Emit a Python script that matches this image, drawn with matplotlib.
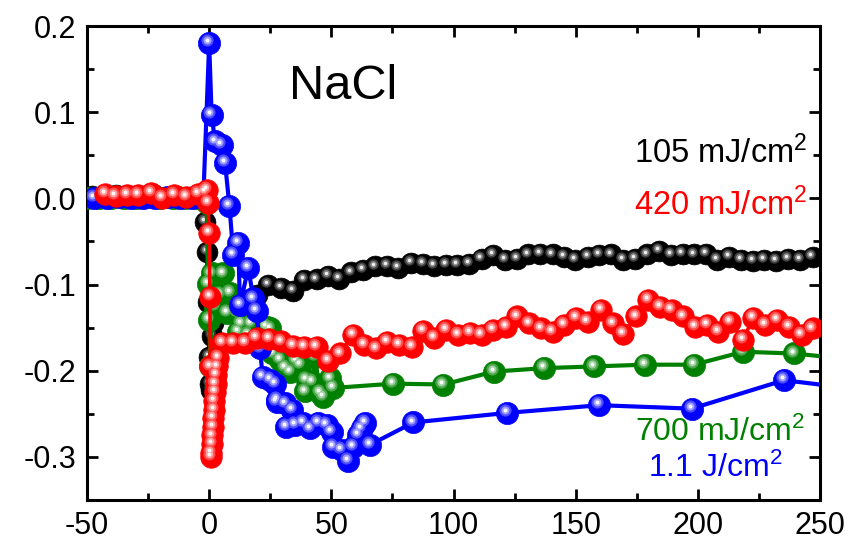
import numpy as np
import matplotlib
matplotlib.use("Agg")
import matplotlib.pyplot as plt
from matplotlib.transforms import offset_copy
from matplotlib.colors import to_rgb

plt.rcParams['font.family'] = ['Liberation Sans', 'DejaVu Sans']
plt.rcParams['mathtext.default'] = 'regular'
plt.rcParams['axes.unicode_minus'] = False

# delay (ps) and signal for each fluence
x_105 = [-48, -43, -38, -33, -28, -23, -18, -13, -8, -4,
         -1.7, -1.0, -0.5, 0, 0.4, 0.8, 1.2, 1.6, 5.8, 10, 14.6,
         19.4, 24.2, 29.3, 34.2, 38.9, 44, 48.8, 53.3, 58, 63.1, 67.9, 72.7, 77.4,
         82.5, 87.4, 92.1, 96.9, 101.6, 106.5, 111.5, 116.3, 121.1, 125.9, 130.6,
         135.4, 140.6, 145.2, 149.9, 155, 159.7, 164.5, 169.3, 174.3, 179.1, 184.2,
         188.9, 193.8, 198.4, 203.4, 208, 212.9, 217.6, 222.5, 227.1, 232, 237,
         241.8, 247]
y_105 = [0.003, 0.002, 0.004, 0.003, 0.002, 0.005, 0.002, 0.003, 0.002, 0.003,
         -0.027, -0.062, -0.12, -0.184, -0.215, -0.222, -0.16, -0.145, -0.13, -0.125, -0.118,
         -0.112, -0.100, -0.104, -0.107, -0.095, -0.094, -0.090, -0.093, -0.086, -0.083, -0.079, -0.078, -0.081,
         -0.075, -0.076, -0.078, -0.077, -0.077, -0.076, -0.070, -0.066, -0.071, -0.070, -0.065,
         -0.064, -0.065, -0.068, -0.071, -0.068, -0.066, -0.065, -0.071, -0.070, -0.065, -0.061,
         -0.066, -0.064, -0.065, -0.064, -0.071, -0.068, -0.071, -0.073, -0.071, -0.073, -0.070,
         -0.071, -0.068]

x_420 = [-42.7, -38.3, -33.5, -29, -23.9, -19.2, -14.3, -9.6, -4.5,
         -1.5, -1.0, -0.5, 0, 0.3, 0.5, 0.7, 0.9, 1.1, 1.3, 1.5, 1.7, 1.9, 2.1, 2.3,
         2.6, 2.9, 3.2, 3.6, 5.2, 9.9, 14.7,
         19.4, 24.5, 29.3, 34.2, 39, 44, 48.8, 53.6, 58.8, 63.5, 68.2, 72.8, 77.7,
         82.9, 87.6, 92.1, 96.9, 102, 106.8, 111.5, 116.3, 121.4, 126.1, 131,
         135.8, 140.6, 145.2, 150.1, 154.9, 160.4, 165.2, 169.5, 174.7, 179.7, 184.5,
         189.3, 194.1, 198.9, 203.9, 208.4, 213.2, 218.4, 222.7, 227.5, 232.3, 237.5,
         242.5, 247]
y_420 = [0.005, 0.003, 0.004, 0.004, 0.006, 0.001, 0.004, 0.002, 0.005,
         0.008, 0.01, -0.005, -0.04, -0.114, -0.195, -0.30, -0.295, -0.285, -0.275, -0.265, -0.255, -0.245, -0.235, -0.225,
         -0.215, -0.205, -0.195, -0.185, -0.168, -0.168, -0.168,
         -0.162, -0.163, -0.166, -0.171, -0.172, -0.172, -0.189, -0.180, -0.158, -0.170, -0.174, -0.167, -0.170,
         -0.172, -0.154, -0.162, -0.153, -0.158, -0.156, -0.158, -0.153, -0.149, -0.137, -0.145,
         -0.151, -0.155, -0.147, -0.139, -0.143, -0.129, -0.145, -0.157, -0.137, -0.118, -0.126,
         -0.129, -0.137, -0.149, -0.147, -0.155, -0.143, -0.164, -0.139, -0.147, -0.141, -0.149,
         -0.158, -0.151]

x_700 = [-50, -45, -40, -35, -30, -25, -20, -15, -10, -5,
         -1, -0.5, 0, 0.5, 1, 2.4, 4.4, 5.8, 7.2, 8.5, 11.3, 11.9, 13.3, 16, 17.4,
         23.5, 24.9, 25.6, 26.2, 29, 31, 33.1, 35.8, 37.2, 39.2, 39.9, 42, 43.3,
         45.4, 46.7, 49.4, 50.8, 75.4, 95.9, 116.6, 137.1, 157.5, 178.4, 198.4,
         218.6, 239.4, 260]
y_700 = [0.0, 0.001, 0.0, 0.001, 0.0, 0.002, 0.0, 0.001, 0.0, 0.001,
         -0.005, -0.099, -0.141, -0.195, -0.087, -0.126, -0.112, -0.087, -0.133, -0.110, -0.133, -0.155, -0.145, -0.158, -0.145,
         -0.149, -0.151, -0.180, -0.180, -0.187, -0.197, -0.201, -0.189, -0.193, -0.224, -0.211, -0.213, -0.184,
         -0.226, -0.230, -0.209, -0.220, -0.215, -0.216, -0.201, -0.197, -0.195, -0.193, -0.193,
         -0.178, -0.180, -0.186]

x_1100 = [-47, -42, -37, -32, -27, -22, -17, -12, -7, -2.4,
          0, 1, 2.4, 5.1, 6.5, 8.3, 9.9, 11.9, 12.6, 16, 18.1, 19.4, 20.8, 21.9,
          24.9, 26.9, 27.6, 27.9, 31, 31.5, 33.8, 35.1, 38.5, 41.3, 44.7, 48.1,
          50.1, 50.8, 54.2, 56.9, 59, 61.1, 62.4, 63.8, 65.8, 83.6, 121.8, 159.7,
          197.5, 235.3, 273]
y_1100 = [0.001, 0.0, 0.002, 0.0, 0.001, 0.0, 0.002, 0.0, 0.001, 0.0,
          0.180, 0.097, 0.066, 0.062, 0.041, -0.009, -0.066, -0.052, -0.124, -0.081, -0.116, -0.131, -0.174, -0.207,
          -0.211, -0.215, -0.236, -0.234, -0.238, -0.265, -0.245, -0.263, -0.261, -0.267, -0.261, -0.263,
          -0.271, -0.288, -0.292, -0.305, -0.288, -0.274, -0.267, -0.261, -0.286, -0.260, -0.249, -0.240,
          -0.244, -0.211, -0.224]

labels = [r'105 mJ/cm$^2$', r'420 mJ/cm$^2$', r'700 mJ/cm$^2$', r'1.1 J/cm$^2$']
colors = ['#000000', '#ff0000', '#008000', '#0000ff']

fig = plt.figure(figsize=(8.48, 5.4), dpi=100)
ax = fig.add_axes([87/848, 1 - 500/540, (820 - 87)/848, (500 - 26)/540])


def ball_series(x, y, color, z, ms=14, lw=2.6):
    # line with solid markers, then lighter dots on top for a glossy ball look
    ax.plot(x, y, '-', color=color, lw=lw, marker='o', ms=ms,
            mfc=color, mec=color, mew=0.5, zorder=z)
    base = np.array(to_rgb(color))
    if color == '#000000':
        shades = [(0.50, 0.25), (0.32, 0.55), (0.16, 0.95)]
    else:
        shades = [(0.55, 0.30), (0.36, 0.62), (0.18, 0.97)]
    tr = offset_copy(ax.transData, fig=fig, x=-2.2, y=2.8, units='dots')
    for k, (frac, mix) in enumerate(shades):
        c = base * (1 - mix) + mix
        ax.scatter(x, y, s=(ms * frac) ** 2, color=c, lw=0,
                   zorder=z + 0.1 * (k + 1), transform=tr)


ball_series(x_105, y_105, colors[0], 2, ms=15, lw=2.6)
ball_series(x_700, y_700, colors[2], 3, ms=16, lw=3)
ball_series(x_1100, y_1100, colors[3], 4, ms=16, lw=3)
ball_series(x_420, y_420, colors[1], 5, ms=15.5, lw=2.6)

ax.set_xlim(-50, 250)
ax.set_ylim(-0.35, 0.2)
ax.set_xticks(np.arange(-50, 251, 50))
ax.set_xticks(np.arange(-25, 251, 50), minor=True)
ax.set_yticks(np.arange(-0.3, 0.21, 0.1))
ax.set_yticks(np.arange(-0.35, 0.2, 0.1), minor=True)
ax.set_yticklabels(['-0.3', '-0.2', '-0.1', '0.0', '0.1', '0.2'])

for s in ax.spines.values():
    s.set_linewidth(2.2)
ax.tick_params(which='both', direction='in', top=True, right=True, width=2,
               labelsize=22, pad=8)
ax.tick_params(which='major', length=8)
ax.tick_params(which='minor', length=5)

ax.text(55, 0.130, 'NaCl', fontsize=35, ha='center', va='center')
ax.text(245, 0.053, labels[0], color=colors[0], fontsize=23.5, ha='right', va='center')
ax.text(245, -0.008, labels[1], color=colors[1], fontsize=23.5, ha='right', va='center')
ax.text(244, -0.272, labels[2], color=colors[2], fontsize=23, ha='right', va='center')
ax.text(234.6, -0.313, labels[3], color=colors[3], fontsize=23, ha='right', va='center')

fig.savefig('out.png', dpi=100)
